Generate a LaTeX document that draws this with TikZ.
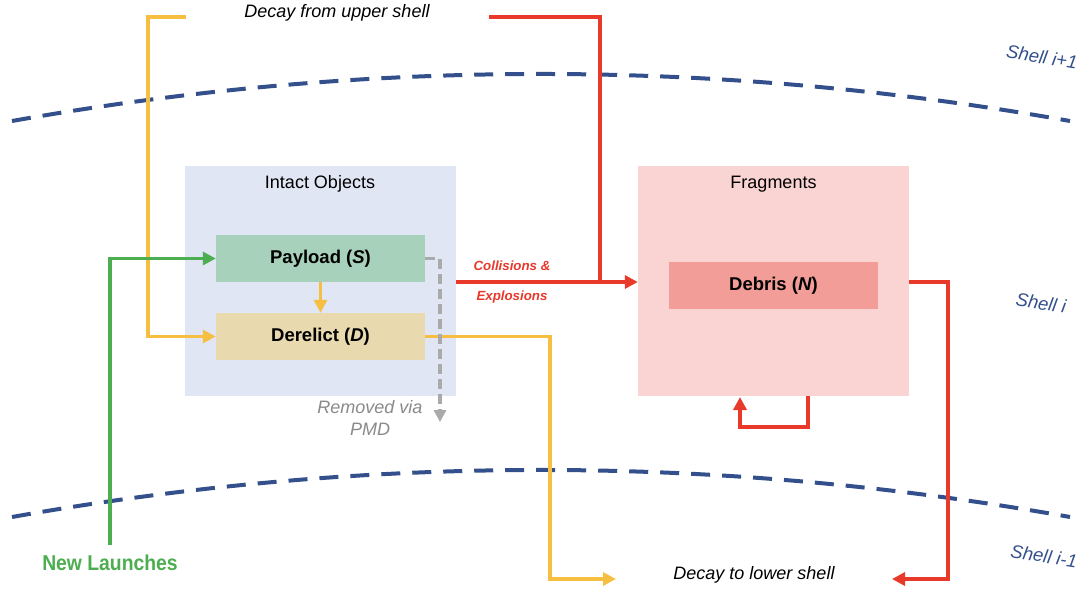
\documentclass[tikz,border=0pt]{standalone}
\usepackage{fontspec}
\setmainfont{Liberation Sans}
\usetikzlibrary{arrows.meta,calc}
\definecolor{shellblue}{HTML}{34508C}
\definecolor{intactbg}{HTML}{E1E6F4}
\definecolor{fragbg}{HTML}{F9D4D3}
\definecolor{payloadfill}{HTML}{A8D1BB}
\definecolor{derelictfill}{HTML}{E9D9AF}
\definecolor{debrisfill}{HTML}{F29D97}
\definecolor{flowyellow}{HTML}{F6BF41}
\definecolor{flowred}{HTML}{E8392A}
\definecolor{flowgreen}{HTML}{4DAE51}
\definecolor{pmdgrey}{HTML}{AAAAAA}
\definecolor{pmdtext}{HTML}{8A8A8A}
\tikzset{
  group/.style={draw=none, minimum width=271pt, minimum height=230pt, inner sep=0pt},
  stock/.style={draw=none, minimum width=209pt, minimum height=47pt, inner sep=0pt,
    font=\fontsize{18.5}{22}\selectfont\bfseries},
  grouptitle/.style={font=\fontsize{18}{21}\selectfont},
  shellline/.style={shellblue, line width=4pt, dash pattern=on 19pt off 12pt},
  shelllabel/.style={shellblue, font=\fontsize{18.5}{22}\selectfont\itshape, rotate=-9},
  flow/.style={line width=3.5pt, -{Triangle[length=13pt,width=13pt]}},
  plain/.style={line width=3.5pt},
  note/.style={font=\fontsize{18}{22}\selectfont\itshape},
}
\begin{document}
\begin{tikzpicture}[x=1pt,y=-1pt]
\useasboundingbox (0,0) rectangle (1085,590);
\fill[white] (0,0) rectangle (1085,590);

% shell boundaries
\draw[shellline] (12,121) .. controls (364.7,58.3) and (717.3,58.3) .. (1070,121);
\draw[shellline] (12,517) .. controls (364.7,454.3) and (717.3,454.3) .. (1070,517);
\node[shelllabel] (sup) at (1042,57) {Shell \textit{i}+1};
\node[shelllabel] (smid) at (1041,303) {Shell \textit{i}};
\node[shelllabel] (slow) at (1044,556) {Shell \textit{i}-1};

% groups
\node[group, fill=intactbg] (intact) at (320,281) {};
\node[group, fill=fragbg] (frag) at (773.5,281) {};
\node[grouptitle] (intacttitle) at (320,184) {Intact Objects};
\node[grouptitle] (fragtitle) at (773.5,184) {Fragments};

% stocks
\node[stock, fill=payloadfill] (payload) at (320.5,258.5) {Payload (\textit{S})};
\node[stock, fill=derelictfill] (derelict) at (320.5,336.5) {Derelict (\textit{D})};
\node[stock, fill=debrisfill] (debris) at (773.5,285.5) {Debris (\textit{N})};

% text labels
\node[note] (upper) at (337,13) {Decay from upper shell};
\node[note] (lower) at (754,575) {Decay to lower shell};
\node[font=\fontsize{21.5}{24}\selectfont\bfseries, text=flowgreen] (launch) at (110,563) {\scalebox{0.9}[1]{New Launches}};
\node[text=pmdtext, align=center, font=\fontsize{18}{22}\selectfont\itshape] (pmd) at (370,418) {Removed via\\PMD};
\node[text=flowred, font=\fontsize{13.3}{16}\selectfont\bfseries\itshape] (coll) at (512,266) {Collisions \&};
\node[text=flowred, font=\fontsize{13.3}{16}\selectfont\bfseries\itshape] (expl) at (512,297) {Explosions};

% free ends of the connectors
\coordinate (ytop) at (186,17);
\coordinate (rtop) at (489,17);
\coordinate (gstart) at (110,545);
\coordinate (ylow) at (616,579);
\coordinate (rlow) at (892,579);
\coordinate (pmdend) at (440,422);
\coordinate (collstart) at (456,282);

% yellow: decay from upper shell into derelict
\draw[flow, flowyellow] (ytop) -- (148,17) |- (derelict.west);
% yellow: payload becomes derelict
\draw[flow, flowyellow] (payload.south) -- (derelict.north);
% yellow: derelict decays to lower shell
\draw[flow, flowyellow] (derelict.east) -- (550,336.5) |- (ylow);
% green: new launches
\draw[flow, flowgreen] (gstart) |- (payload.west);
% grey dashed: post-mission disposal
\draw[line width=3.5pt, pmdgrey, dash pattern=on 10pt off 5pt, -{Triangle[length=12pt,width=12pt]}]
  (payload.east) -- (440,258.5) -- (pmdend);
% red: collisions and explosions into fragments
\draw[flow, flowred] (collstart) -- (frag.west |- collstart);
\draw[plain, flowred] (rtop) -- (600,17) -- (600,282);
% red: debris decays to lower shell
\draw[flow, flowred] (frag.east |- collstart) -- (948,282) |- (rlow);
% red: fragment self loop
\draw[flow, flowred] (808,396) -- (808,427) -- (740,427) -- (740,397);
\end{tikzpicture}
\end{document}
